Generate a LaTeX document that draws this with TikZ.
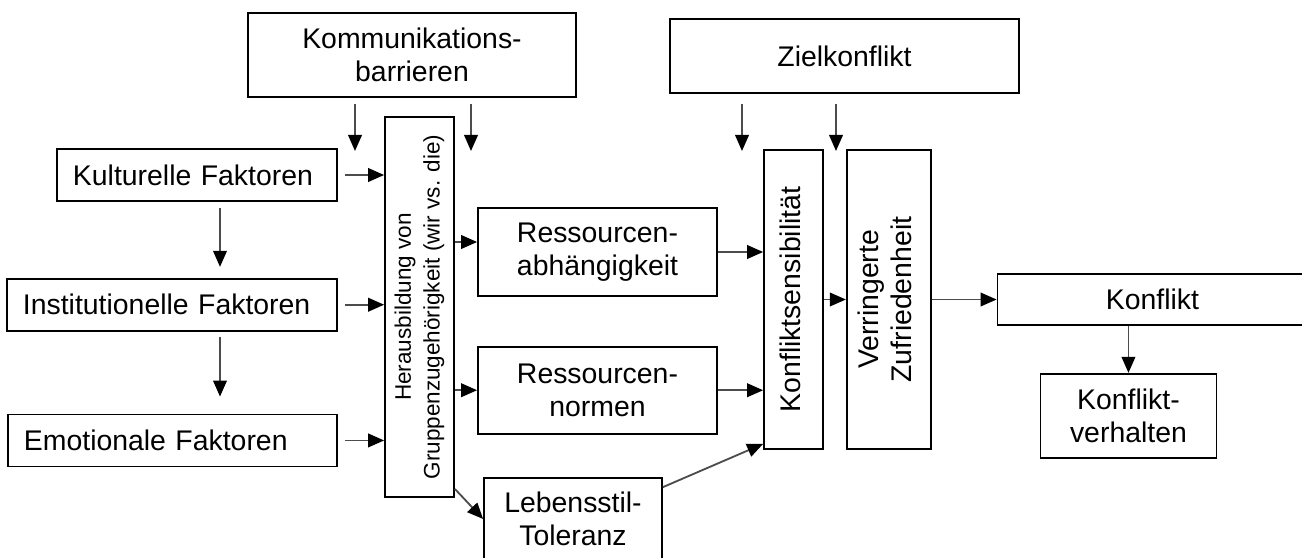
\documentclass[tikz,border=0pt]{standalone}
\usepackage{fontspec}
\setmainfont{Liberation Sans}
\usepackage{graphicx}
\usepackage{tikz}
\usetikzlibrary{arrows.meta,positioning}

\newcommand{\vtext}[1]{\rotatebox{90}{\begin{tabular}{@{}c@{}}#1\end{tabular}}}

\begin{document}
\begin{tikzpicture}[
x=0.025cm, y=-0.025cm,
font=\fontsize{20.2pt}{23.5pt}\selectfont,
box/.style={
rectangle,
draw,
line width=1.2pt,
inner sep=0pt,
align=center
},
factor/.style={
box,
inner xsep=0.4cm,
minimum height=1.3cm,
align=left
},
vbox/.style={
box,
minimum height=7.475cm
},
arrow/.style={
-{Triangle[length=0.4cm,width=0.34cm,color=black]},
draw=black!70,
line width=1.3pt
}
]
\useasboundingbox (0,0) rectangle (1302,558);

% Einflussfaktoren
\node[factor, text width=6.2cm] (kulturelle) at (197,175) {Kulturelle Faktoren};
\node[factor, text width=7.45cm, below=1.9cm of kulturelle.south east, anchor=north east] (institutionelle) {Institutionelle Faktoren};
\node[factor, text width=7.425cm, below=2.05cm of institutionelle.south east, anchor=north east] (emotionale) {Emotionale Faktoren};
\node[box, minimum width=8.2cm, minimum height=2.1cm] (kommunikation) at (412,55) {Kommunikations-\\barrieren};
\node[box, minimum width=8.725cm, minimum height=1.85cm] (zielkonflikt) at (844.5,56) {Zielkonflikt};

% Gruppenbildung und Ressourcen
\node[box, minimum width=1.725cm, minimum height=9.5cm, font=\fontsize{16pt}{20.5pt}\selectfont] (herausbildung) at (419.5,307) {\vtext{Herausbildung von\\Gruppenzugehörigkeit (wir vs. die)}};
\node[box, minimum width=5.975cm, minimum height=2.2cm] (ress-abh) at (597.5,252) {Ressourcen-\\abhängigkeit};
\node[box, minimum width=5.975cm, minimum height=2.175cm, below=1.225cm of ress-abh] (ress-normen) {Ressourcen-\\normen};
\node[box, minimum width=4.45cm, minimum height=2.05cm] (lebensstil) at (573,519) {Lebensstil-\\Toleranz};

% Konflikt
\node[vbox, minimum width=1.475cm] (sensibilitaet) at (793.5,299.5) {\vtext{Konfliktsensibilität}};
\node[vbox, minimum width=2.1cm, right=0.55cm of sensibilitaet] (zufriedenheit) {\vtext{Verringerte\\Zufriedenheit}};
\node[box, minimum width=7.75cm, minimum height=1.275cm, right=1.625cm of zufriedenheit] (konflikt) {Konflikt};
\node[box, minimum width=4.4cm, minimum height=2.1cm, below=1.175cm of konflikt, xshift=-0.6cm] (verhalten) {Konflikt-\\verhalten};

% Pfeile
\coordinate (komm-links) at (355,151);
\coordinate (komm-rechts) at (471,151);
\coordinate (ziel-links) at (742,151);
\coordinate (ziel-rechts) at (836,151);
\coordinate (spalte) at (220,0);

\draw[arrow, shorten <=0.15cm] (kommunikation.south -| komm-links) -- (komm-links);
\draw[arrow, shorten <=0.15cm] (kommunikation.south -| komm-rechts) -- (komm-rechts);
\draw[arrow, shorten <=0.25cm] (zielkonflikt.south -| ziel-links) -- (ziel-links);
\draw[arrow, shorten <=0.25cm] (zielkonflikt.south -| ziel-rechts) -- (ziel-rechts);

\draw[arrow, shorten <=0.15cm, shorten >=0.275cm] (kulturelle.south -| spalte) -- (institutionelle.north -| spalte);
\draw[arrow, shorten <=0.125cm, shorten >=0.425cm] (institutionelle.south -| spalte) -- (emotionale.north -| spalte);
\draw[arrow, shorten <=0.175cm] (kulturelle.east) -- (kulturelle.east -| herausbildung.west);
\draw[arrow, shorten <=0.175cm] (institutionelle.east) -- (institutionelle.east -| herausbildung.west);
\draw[arrow, shorten <=0.175cm] (emotionale.east) -- (emotionale.east -| herausbildung.west);

\draw[arrow] (herausbildung.east |- 0,242) -- (ress-abh.west |- 0,242);
\draw[arrow] (herausbildung.east |- ress-normen.west) -- (ress-normen.west);
\draw[arrow] ([yshift=0.225cm]herausbildung.south east) -- (lebensstil.west);

\draw[arrow] (ress-abh.east) -- (ress-abh.east -| sensibilitaet.west);
\draw[arrow] (ress-normen.east) -- (ress-normen.east -| sensibilitaet.west);
\draw[arrow] ([yshift=-0.25cm]lebensstil.north east) -- ([yshift=0.15cm]sensibilitaet.south west);
\draw[arrow] (sensibilitaet) -- (zufriedenheit);
\draw[arrow] (zufriedenheit.east |- konflikt.west) -- (konflikt.west);
\draw[arrow] (konflikt.south -| verhalten.north) -- (verhalten.north);
\end{tikzpicture}
\end{document}
